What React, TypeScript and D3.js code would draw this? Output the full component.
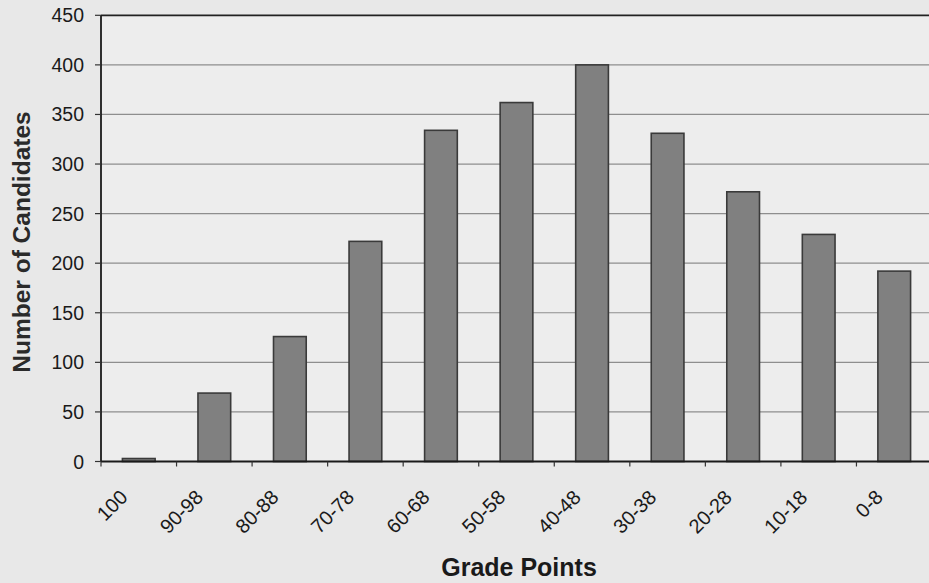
import React from "react";
import * as d3 from "d3";

const categories: string[] = ["100", "90-98", "80-88", "70-78", "60-68", "50-58", "40-48", "30-38", "20-28", "10-18", "0-8"];
const candidates: number[] = [3, 69, 126, 222, 334, 362, 400, 331, 272, 229, 192];
const yTicks: number[] = [0, 50, 100, 150, 200, 250, 300, 350, 400, 450];
const xTitle = "Grade Points";
const yTitle = "Number of Candidates";

const W = 929;
const H = 583;
const left = 101;
const right = 932;
const top = 15.3;
const bottom = 461.5;
const FONT = "'Liberation Sans', Arial, Helvetica, sans-serif";

export default function App() {
  const x = d3.scaleBand<string>().domain(categories).range([left, right]).paddingInner(0.567).paddingOuter(0.2835);
  const y = d3.scaleLinear().domain([0, 450]).range([bottom, top]);
  const step = x.step();
  const boundaries = d3.range(categories.length + 1).map((i) => left + i * step);

  return (
    <svg width={W} height={H} style={{ position: "absolute", left: 0, top: 0 }} fontFamily={FONT}>
      <rect x={0} y={0} width={W} height={H} fill="#e8e8e8" />
      <rect x={left} y={top} width={right - left} height={bottom - top} fill="#ededed" />
      {yTicks.filter((t) => t > 0 && t < 450).map((t) => (
        <line key={"g" + t} x1={left} x2={right} y1={y(t)} y2={y(t)} stroke="#8e8e8e" strokeWidth={1.2} />
      ))}
      <line x1={left} x2={right} y1={top} y2={top} stroke="#222" strokeWidth={1.8} />
      <line x1={right - 1} x2={right - 1} y1={top} y2={bottom} stroke="#222" strokeWidth={1.8} />
      {categories.map((c, i) => (
        <rect
          key={c}
          x={x(c)}
          y={y(candidates[i])}
          width={x.bandwidth()}
          height={bottom - y(candidates[i])}
          fill="#808080"
          stroke="#3a3a3a"
          strokeWidth={1.6}
        />
      ))}
      <line x1={left} x2={left} y1={top} y2={bottom} stroke="#1a1a1a" strokeWidth={1.8} />
      <line x1={left} x2={right} y1={bottom} y2={bottom} stroke="#1a1a1a" strokeWidth={1.8} />
      {yTicks.map((t) => (
        <g key={"y" + t}>
          <line x1={left - 6} x2={left} y1={y(t)} y2={y(t)} stroke="#333" strokeWidth={1.2} />
          <text x={84} y={y(t)} dy="0.36em" textAnchor="end" fontSize={19.5} fill="#1a1a1a">
            {t}
          </text>
        </g>
      ))}
      {boundaries.map((b, i) => (
        <line key={"xt" + i} x1={b} x2={b} y1={bottom} y2={bottom + 5} stroke="#333" strokeWidth={1.2} />
      ))}
      {categories.map((c) => {
        const cx = (x(c) as number) + x.bandwidth() / 2 - 10;
        const cy = bottom + 37;
        return (
          <text key={"xl" + c} x={cx} y={cy} textAnchor="end" fontSize={20} fill="#1a1a1a" transform={`rotate(-45 ${cx} ${cy})`}>
            {c}
          </text>
        );
      })}
      <text x={(left + 937) / 2} y={576} textAnchor="middle" fontSize={25} fontWeight="bold" fill="#1a1a1a">
        {xTitle}
      </text>
      <text x={30} y={242} textAnchor="middle" fontSize={24.5} fontWeight="bold" fill="#2a2a2a" transform={`rotate(-90 30 242)`}>
        {yTitle}
      </text>
    </svg>
  );
}
